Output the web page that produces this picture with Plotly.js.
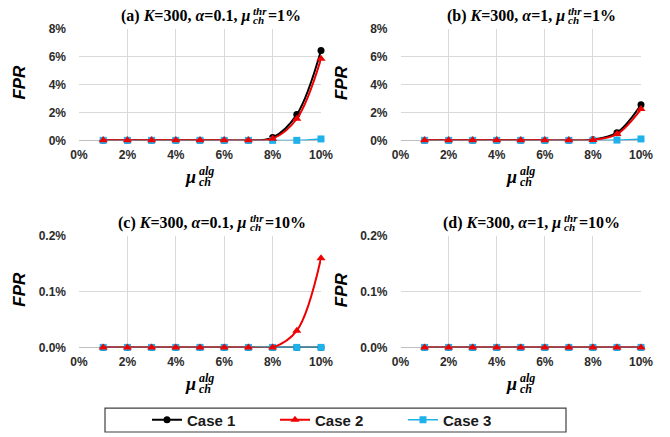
<!DOCTYPE html>
<html>
<head>
<meta charset="utf-8">
<script src="https://cdn.plot.ly/plotly-3.0.1.min.js"></script>
<style>html,body{margin:0;padding:0;background:#fff;}#chart{width:670px;height:437px;}</style>
</head>
<body>
<div id="chart"></div>
<script>
// ---------------- data ----------------
const xValues = [1, 2, 3, 4, 5, 6, 7, 8, 9, 10];          // mu_ch^alg in %
const caseNames = ['Case 1', 'Case 2', 'Case 3'];
const panelLabels = ['(a)', '(b)', '(c)', '(d)'];
const kValues = ['300', '300', '300', '300'];
const alphaValues = ['0.1', '1', '0.1', '1'];
const thrValues = ['1%', '1%', '10%', '10%'];

// FPR in %
const aCase1 = [0, 0, 0, 0, 0, 0, 0, 0.2, 1.85, 6.45];
const aCase2 = [0, 0, 0, 0, 0, 0, 0, 0.12, 1.55, 5.85];
const aCase3 = [0, 0, 0, 0, 0, 0, 0, 0, 0, 0.1];
const bCase1 = [0, 0, 0, 0, 0, 0, 0, 0.05, 0.55, 2.55];
const bCase2 = [0, 0, 0, 0, 0, 0, 0, 0.03, 0.45, 2.25];
const bCase3 = [0, 0, 0, 0, 0, 0, 0, 0, 0.02, 0.1];
const cCase1 = [0, 0, 0, 0, 0, 0, 0, 0, 0, 0];
const cCase2 = [0, 0, 0, 0, 0, 0, 0, 0, 0.03, 0.16];
const cCase3 = [0, 0, 0, 0, 0, 0, 0, 0, 0, 0];
const dCase1 = [0, 0, 0, 0, 0, 0, 0, 0, 0, 0];
const dCase2 = [0, 0, 0, 0, 0, 0, 0, 0, 0, 0];
const dCase3 = [0, 0, 0, 0, 0, 0, 0, 0, 0, 0];

const xTickVals = [0, 2, 4, 6, 8, 10];
const xTickText = ['0%', '2%', '4%', '6%', '8%', '10%'];
const yTickValsTop = [0, 2, 4, 6, 8];
const yTickTextTop = ['0%', '2%', '4%', '6%', '8%'];
const yTickValsBottom = [0, 0.1, 0.2];
const yTickTextBottom = ['0.0%', '0.1%', '0.2%'];

// ---------------- styling ----------------
const W = 670, H = 437;
const px = v => v / W;
const py = v => 1 - v / H;
const SERIF = 'Liberation Serif';
const SANS = 'Liberation Sans';
const bold = arr => arr.map(t => '<b>' + t + '</b>');

const panels = [
  {c: [aCase1, aCase2, aCase3], xd: [79, 321], yd: [29, 141], ymax: 8, yv: yTickValsTop, yt: yTickTextTop},
  {c: [bCase1, bCase2, bCase3], xd: [400.5, 641], yd: [29, 141], ymax: 8, yv: yTickValsTop, yt: yTickTextTop},
  {c: [cCase1, cCase2, cCase3], xd: [79, 321], yd: [237, 349], ymax: 0.2, yv: yTickValsBottom, yt: yTickTextBottom},
  {c: [dCase1, dCase2, dCase3], xd: [400.5, 641], yd: [237, 349], ymax: 0.2, yv: yTickValsBottom, yt: yTickTextBottom}
];

const caseStyle = [
  {color: '#000000', symbol: 'circle', size: 7, width: 2},
  {color: '#f00000', symbol: 'triangle-up', size: 8, width: 2},
  {color: '#1fb1ea', symbol: 'square', size: 7, width: 1.5}
];
const drawOrder = [0, 2, 1];

const traces = [];
const layout = {
  width: W, height: H,
  margin: {l: 0, r: 0, t: 0, b: 0},
  paper_bgcolor: '#fff', plot_bgcolor: '#fff',
  showlegend: true,
  legend: {
    orientation: 'h', x: px(147), xanchor: 'left', y: py(422), yanchor: 'middle',
    entrywidth: 83, font: {family: SANS, size: 15, color: '#1a1a1a'},
    bgcolor: 'rgba(0,0,0,0)', borderwidth: 0, itemwidth: 30
  },
  annotations: [],
  shapes: [{
    type: 'rect', xref: 'paper', yref: 'paper',
    x0: px(105), x1: px(566), y0: py(434), y1: py(410),
    line: {color: '#404040', width: 1.2}
  }]
};

const tickFont = {family: SANS, size: 12, color: '#2b2b2b', weight: 'bold'};

panels.forEach((p, i) => {
  const n = i === 0 ? '' : String(i + 1);
  layout['xaxis' + n] = {
    domain: [px(p.xd[0]), px(p.xd[1])], range: [0, 10], anchor: 'y' + n,
    tickmode: 'array', tickvals: xTickVals, ticktext: bold(xTickText), tickfont: tickFont,
    showgrid: true, gridcolor: '#d9d9d9', gridwidth: 1, zeroline: false,
    showline: false, ticks: '', ticklabelstandoff: 6, fixedrange: true
  };
  layout['yaxis' + n] = {
    domain: [py(p.yd[1]), py(p.yd[0])], range: [0, p.ymax], anchor: 'x' + n,
    tickmode: 'array', tickvals: p.yv, ticktext: bold(p.yt), tickfont: tickFont,
    showgrid: true, gridcolor: '#d9d9d9', gridwidth: 1,
    zeroline: true, zerolinecolor: '#bfbfbf', zerolinewidth: 1,
    showline: false, ticks: '', ticklabelstandoff: 12, fixedrange: true
  };
  drawOrder.forEach(k => {
    const s = caseStyle[k];
    traces.push({
      type: 'scatter', mode: 'lines+markers', x: xValues, y: p.c[k],
      xaxis: 'x' + n, yaxis: 'y' + n, name: '<b>' + caseNames[k] + '</b>',
      legendgroup: caseNames[k], legendrank: k + 1, showlegend: i === 0,
      cliponaxis: false,
      line: {color: s.color, width: s.width, shape: 'spline', smoothing: 1},
      marker: {color: s.color, symbol: s.symbol, size: s.size, line: {width: 0}}
    });
  });
});

// ---------- rich text (stacked sub/superscripts) ----------
const richGroups = [];
function addRich(cx, cy, mainHtml, mainSize, sup, sub, rest, scSize, supDy, subDy) {
  const base = {xref: 'paper', yref: 'paper', showarrow: false, borderpad: 0, yanchor: 'middle'};
  const g = {cx: cx};
  g.iMain = layout.annotations.length;
  layout.annotations.push(Object.assign({}, base, {
    text: mainHtml, x: px(cx), xanchor: 'right', y: py(cy),
    font: {family: SERIF, size: mainSize, color: '#000'}
  }));
  g.iSup = layout.annotations.length;
  layout.annotations.push(Object.assign({}, base, {
    text: '<b><i>' + sup + '</i></b>', x: px(cx), xanchor: 'left', y: py(cy + supDy),
    font: {family: SERIF, size: scSize, color: '#000'}
  }));
  g.iSub = layout.annotations.length;
  layout.annotations.push(Object.assign({}, base, {
    text: '<b><i>' + sub + '</i></b>', x: px(cx), xanchor: 'left', y: py(cy + subDy),
    font: {family: SERIF, size: scSize, color: '#000'}
  }));
  g.iRest = -1;
  if (rest) {
    g.iRest = layout.annotations.length;
    layout.annotations.push(Object.assign({}, base, {
      text: '<b>' + rest + '</b>', x: px(cx + 20), xanchor: 'left', y: py(cy),
      font: {family: SERIF, size: mainSize, color: '#000'}
    }));
  }
  richGroups.push(g);
}

const titleCenters = [[211, 16], [531, 16], [212, 224], [531, 224]];
panels.forEach((p, i) => {
  const mainHtml = '<b>' + panelLabels[i] + ' <i>K</i>=' + kValues[i] + ', <i>α</i>=' +
    alphaValues[i] + ', <i>μ</i></b>';
  addRich(titleCenters[i][0], titleCenters[i][1], mainHtml, 16, 'thr', 'ch', '=' + thrValues[i], 11, -5, 4);
  const cx = (p.xd[0] + p.xd[1]) / 2;
  addRich(cx, p.yd[1] + 37, '<b><i>μ</i></b>', 18, 'alg', 'ch', '', 12, -6, 5);
  layout.annotations.push({
    xref: 'paper', yref: 'paper', showarrow: false, textangle: -90,
    text: '<b><i>FPR</i></b>', x: px(p.xd[0] - 59), y: py((p.yd[0] + p.yd[1]) / 2 - 2),
    xanchor: 'center', yanchor: 'middle',
    font: {family: SANS, size: 17, color: '#000'}
  });
});

Plotly.newPlot('chart', traces, layout, {displayModeBar: false, staticPlot: true}).then(gd => {
  const width = i => {
    if (i < 0) return 0;
    const t = gd.querySelector('g.annotation[data-index="' + i + '"] text.annotation-text');
    return t ? t.getBBox().width : 0;
  };
  const upd = {};
  richGroups.forEach(g => {
    const wMain = width(g.iMain);
    const wSc = Math.max(width(g.iSup), width(g.iSub));
    const wRest = width(g.iRest);
    const total = wMain + 1 + wSc + (g.iRest >= 0 ? 1 + wRest : 0);
    const P = g.cx - total / 2 + wMain;
    upd['annotations[' + g.iMain + '].x'] = px(P);
    upd['annotations[' + g.iSup + '].x'] = px(P + 1);
    upd['annotations[' + g.iSub + '].x'] = px(P + 1);
    if (g.iRest >= 0) upd['annotations[' + g.iRest + '].x'] = px(P + 2 + wSc);
  });
  return Plotly.relayout(gd, upd);
});
</script>
</body>
</html>
